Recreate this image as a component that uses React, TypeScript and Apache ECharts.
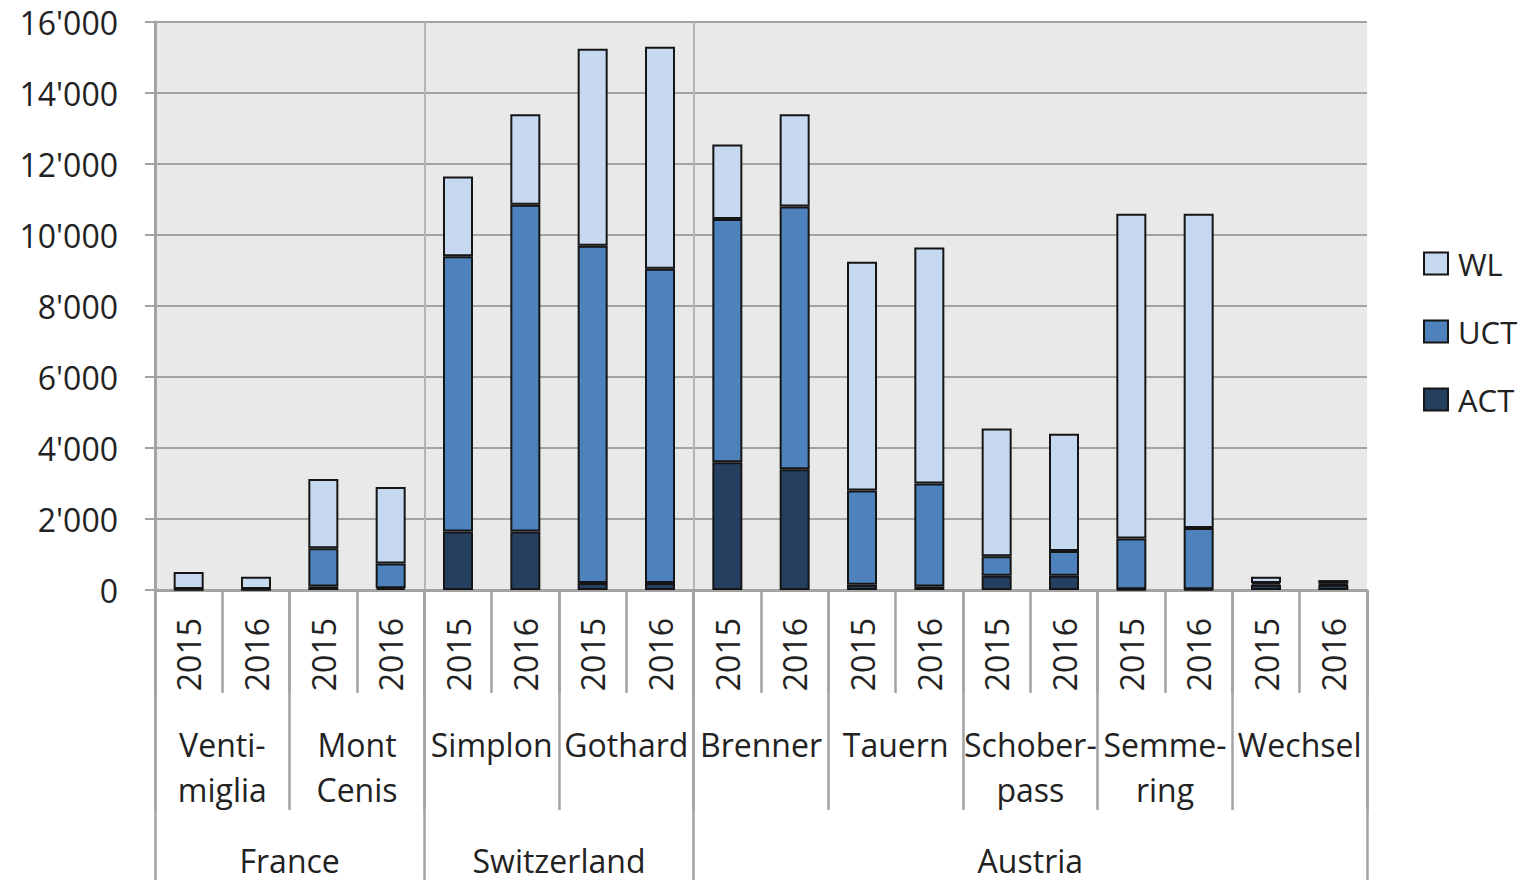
import React, { useEffect, useRef } from "react";
import * as echarts from "echarts";

const years = ["2015","2016","2015","2016","2015","2016","2015","2016","2015","2016","2015","2016","2015","2016","2015","2016","2015","2016"];
const passes = ["Venti-\nmiglia","Mont\nCenis","Simplon","Gothard","Brenner","Tauern","Schober-\npass","Semme-\nring","Wechsel"];
// country labels placed on boundary positions 0..18 (bar units)
const countrySlots = ["","","France","","","","Switzerland","","","","","","","Austria","","","","",""];
const countryBounds = [0, 4, 8, 18];

const ACT = [10, 10, 100, 50, 1650, 1650, 200, 200, 3600, 3400, 150, 100, 400, 400, 20, 20, 150, 150];
const UCT = [20, 20, 1075, 700, 7750, 9200, 9500, 8850, 6850, 7400, 2650, 2900, 550, 700, 1430, 1730, 50, 30];
const WL = [480, 340, 1950, 2150, 2250, 2550, 5550, 6250, 2100, 2600, 6450, 6650, 3600, 3300, 9150, 8850, 170, 100];

const FONT = "Open Sans";
const TXT = "#222";
const LINE = "#a3a3a3";

export default function App() {
  const ref = useRef<HTMLDivElement>(null);
  useEffect(() => {
    if (!ref.current) return;
    const chart = echarts.init(ref.current, undefined, { renderer: "svg" });
    const bar = (name: string, data: number[], color: string) => ({
      name,
      type: "bar",
      stack: "total",
      xAxisIndex: 0,
      yAxisIndex: 0,
      barWidth: 30,
      data,
      itemStyle: { color, borderColor: "#151515", borderWidth: 2 },
    });
    chart.setOption({
      animation: false,
      textStyle: { fontFamily: FONT },
      grid: {
        left: 155,
        right: 159,
        top: 22,
        bottom: 290,
        show: true,
        backgroundColor: "#e9e9e9",
        borderWidth: 0,
      },
      legend: {
        orient: "vertical",
        left: 1418,
        top: 243,
        icon: "rect",
        itemWidth: 24,
        itemHeight: 22,
        itemGap: 37,
        data: ["WL", "UCT", "ACT"],
        textStyle: { fontFamily: FONT, fontSize: 31, color: TXT, padding: [0, 0, 0, 5] },
        itemStyle: { borderColor: "#151515", borderWidth: 2 },
      },
      yAxis: {
        type: "value",
        min: 0,
        max: 16000,
        interval: 2000,
        axisLine: { show: true, lineStyle: { color: LINE, width: 3 } },
        axisTick: { show: true, length: 10, lineStyle: { color: LINE, width: 2 } },
        splitLine: { show: true, lineStyle: { color: LINE, width: 2 } },
        axisLabel: {
          margin: 37,
          fontSize: 32,
          color: TXT,
          fontFamily: FONT,
          formatter: (v: number) => String(v).replace(/\B(?=(\d{3})+(?!\d))/g, "'"),
        },
      },
      xAxis: [
        {
          type: "category",
          data: years,
          position: "bottom",
          axisLine: { show: true, lineStyle: { color: LINE, width: 3 } },
          axisTick: { show: true, interval: 0, length: 103, lineStyle: { color: LINE, width: 2.5 } },
          axisLabel: { interval: 0, rotate: 90, margin: 28, fontSize: 32, color: TXT, fontFamily: FONT },
          splitLine: { show: false },
        },
        {
          type: "category",
          data: passes,
          position: "bottom",
          axisLine: { show: false },
          axisTick: { show: true, interval: 0, length: 220, lineStyle: { color: LINE, width: 2.5 } },
          axisLabel: { interval: 0, margin: 132, fontSize: 32, lineHeight: 45, color: TXT, fontFamily: FONT },
          splitLine: { show: false },
        },
        {
          type: "category",
          data: countrySlots,
          boundaryGap: false,
          position: "bottom",
          axisLine: { show: false },
          axisTick: {
            show: true,
            interval: (i: number) => countryBounds.includes(i),
            length: 290,
            lineStyle: { color: LINE, width: 2.5 },
          },
          axisLabel: { interval: 0, margin: 254, fontSize: 32, color: TXT, fontFamily: FONT },
          splitLine: {
            show: true,
            interval: (i: number) => i === 4 || i === 8,
            lineStyle: { color: "#b5b5b5", width: 2 },
          },
        },
      ],
      series: [
        bar("ACT", ACT, "#243f60"),
        bar("UCT", UCT, "#4f81bd"),
        bar("WL", WL, "#c6d9f1"),
      ],
    });
    return () => chart.dispose();
  }, []);
  return (
    <div
      ref={ref}
      style={{ position: "fixed", left: 0, top: 0, width: 1526, height: 880, background: "#fff" }}
    />
  );
}
